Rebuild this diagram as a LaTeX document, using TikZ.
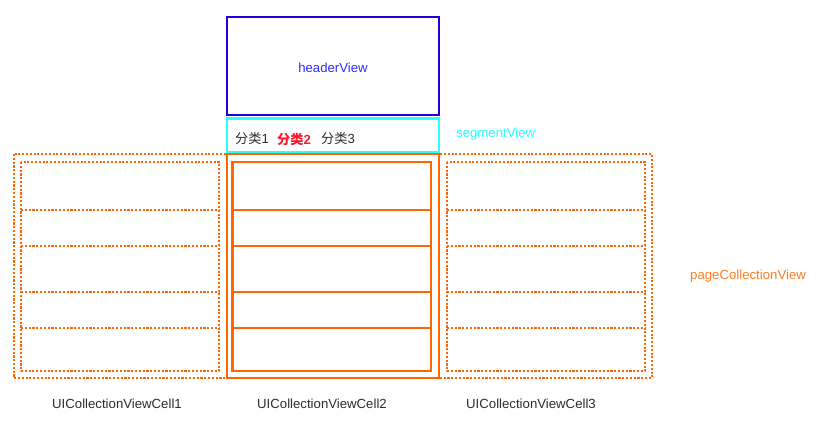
\documentclass[tikz,border=0pt]{standalone}
\usepackage{fontspec}
\setmainfont{Liberation Sans}
\newfontfamily\cjk{Noto Sans CJK SC}
\definecolor{hblue}{RGB}{30,0,225}
\definecolor{tblue}{RGB}{45,45,255}
\definecolor{scyan}{RGB}{40,255,255}
\definecolor{torange}{RGB}{255,102,0}
\definecolor{lorange}{RGB}{255,125,30}
\definecolor{tgray}{RGB}{45,45,45}
\definecolor{tred}{RGB}{255,25,45}
\tikzset{
  dotbox/.style={draw=torange,line width=2.3pt,dash pattern=on 2.1pt off 1.7pt},
  solidbox/.style={draw=torange,line width=2.2pt},
  lbl/.style={font=\fontsize{13.2}{15}\selectfont,inner sep=0pt},
}
\begin{document}
\begin{tikzpicture}[x=1pt,y=-1pt]
\useasboundingbox (0,0) rectangle (819,424);
\fill[white] (0,0) rectangle (819,424);
% header
\draw[hblue,line width=2.2pt] (227,17) rectangle (439,115);
\node[lbl,text=tblue] (hv) at (333,68) {headerView};
% segment
\draw[scyan,line width=2.2pt] (227,118.5) rectangle (439,152.5);
\node[lbl,text=tgray,anchor=west] (s1) at (235,139) {{\cjk 分类}1};
\node[lbl,text=tred,anchor=west] (s2) at (277,139) {\bfseries{\cjk 分类}2};
\node[lbl,text=tgray,anchor=west] (s3) at (321,139) {{\cjk 分类}3};
\node[lbl,text=scyan,anchor=west] (sv) at (456,134.5) {segmentView};
% page collection view outer
\draw[dotbox] (14,154) rectangle (652,378);
% left cell
\draw[dotbox] (21,162) rectangle (219,371);
\foreach \y in {210,246,292,328} \draw[dotbox] (21,\y) -- (219,\y);
% right cell
\draw[dotbox] (447,162) rectangle (645,371);
\foreach \y in {210,246,292,328} \draw[dotbox] (447,\y) -- (645,\y);
% center cell
\draw[solidbox] (227,154) rectangle (439,378);
\draw[solidbox] (232.5,162) rectangle (431,371);
\foreach \y in {210,246,292,328} \draw[solidbox] (232.5,\y) -- (431,\y);
\node[lbl,text=lorange,anchor=west] (pcv) at (690,276.5) {pageCollectionView};
% labels
\node[lbl,text=tgray,anchor=west] (c1) at (52,404) {UICollectionViewCell1};
\node[lbl,text=tgray,anchor=west] (c2) at (257,404) {UICollectionViewCell2};
\node[lbl,text=tgray,anchor=west] (c3) at (466,404) {UICollectionViewCell3};
\end{tikzpicture}
\end{document}
